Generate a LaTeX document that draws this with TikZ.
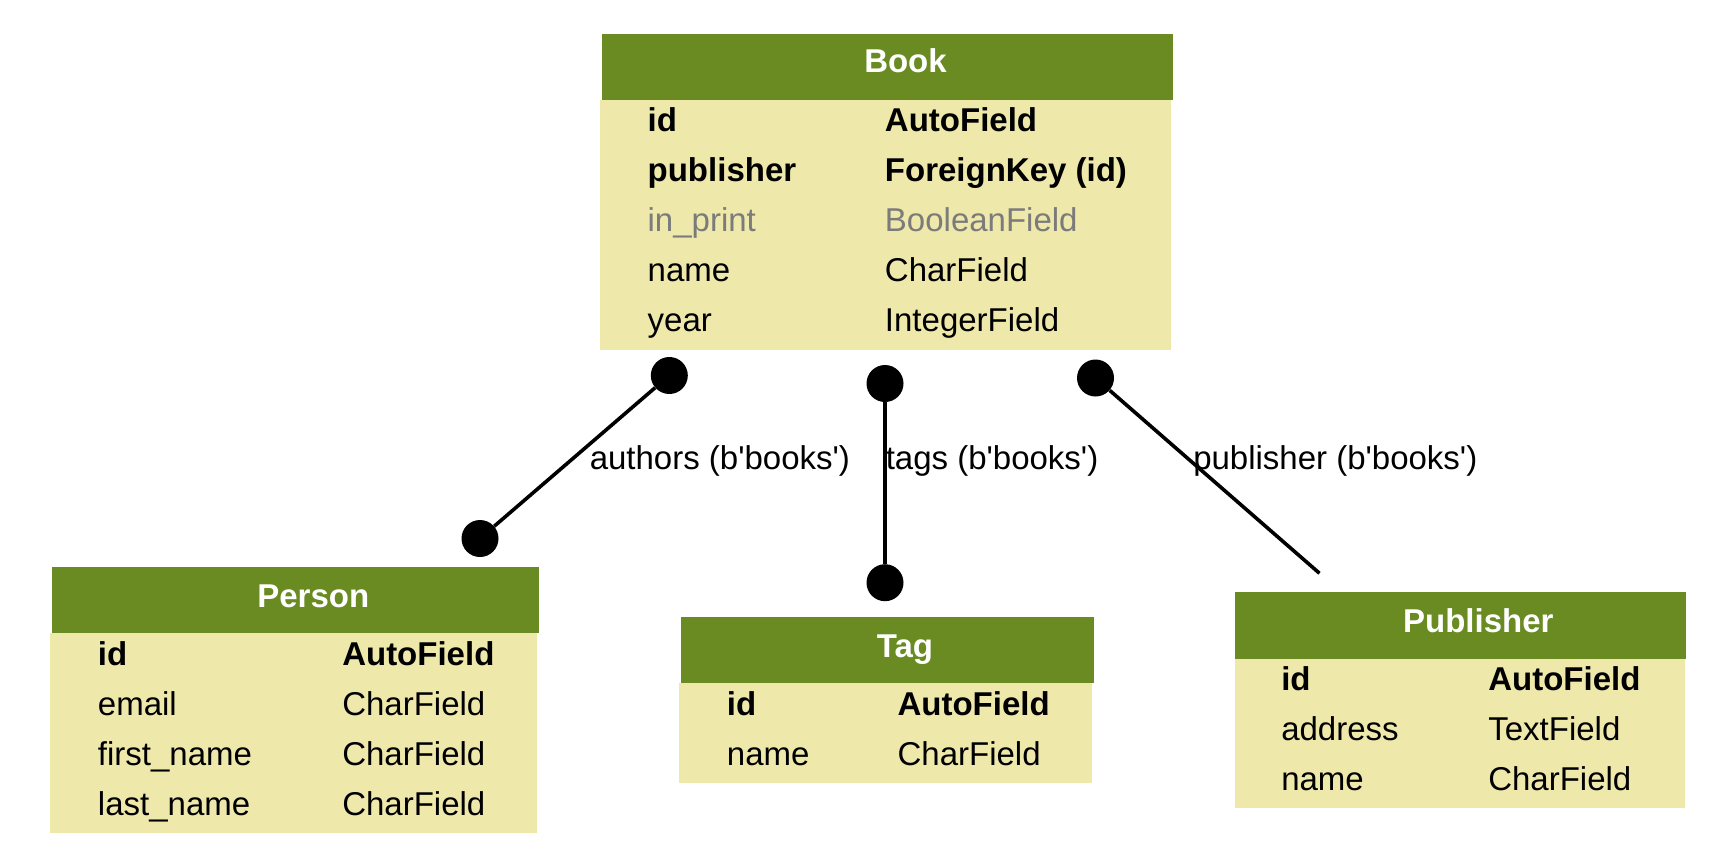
\documentclass[tikz,border=0pt]{standalone}
\usepackage{xcolor}
\usepackage{fontspec}
\setmainfont{Liberation Sans}
\usepackage{tikz}

\definecolor{headgreen}{HTML}{698B22}
\definecolor{bodyyellow}{HTML}{EEE8AA}
\definecolor{nullgray}{HTML}{7B7B7B}

\tikzset{
  fieldtxt/.style={anchor=base west, inner sep=0pt, font=\fontsize{24.75}{30}\selectfont},
  keytxt/.style={fieldtxt, font=\fontsize{24.75}{30}\selectfont\bfseries},
  nulltxt/.style={fieldtxt, text=nullgray},
  titletxt/.style={anchor=base, inner sep=0pt, text=white, font=\fontsize{24.75}{30}\selectfont\bfseries},
  reldot/.style={circle, fill=black, inner sep=0pt, minimum size=27.75pt},
  relline/.style={line width=2.7pt},
}

\begin{document}
\begin{tikzpicture}[x=0.75pt,y=0.75pt,yscale=-1,xscale=1]
\useasboundingbox (0,0) rectangle (1735,867);

%Shape: Rectangle [Book body]
\fill [bodyyellow] (599.5,100) rectangle (1170.7,350);
%Shape: Rectangle [Book header]
\fill [headgreen] (601.5,34.5) rectangle (1172.7,100);
% Text Node
\node [titletxt] (bookT) at (905.5,73) {Book};
% Text Node
\node [keytxt] (bookF1) at (647.4,131.7) {id};
\node [keytxt] (bookY1) at (884.7,131.7) {AutoField};
\node [keytxt] (bookF2) at (647.4,181.7) {publisher};
\node [keytxt] (bookY2) at (884.7,181.7) {ForeignKey (id)};
\node [nulltxt] (bookF3) at (647.4,231.7) {in\_print};
\node [nulltxt] (bookY3) at (884.7,231.7) {BooleanField};
\node [fieldtxt] (bookF4) at (647.4,281.7) {name};
\node [fieldtxt] (bookY4) at (884.7,281.7) {CharField};
\node [fieldtxt] (bookF5) at (647.4,331.7) {year};
\node [fieldtxt] (bookY5) at (884.7,331.7) {IntegerField};

%Shape: Rectangle [Person body]
\fill [bodyyellow] (50,633) rectangle (537.3,833);
%Shape: Rectangle [Person header]
\fill [headgreen] (52,567) rectangle (539.3,633);
% Text Node
\node [titletxt] (personT) at (313.3,607.3) {Person};
% Text Node
\node [keytxt] (personF1) at (97.7,665) {id};
\node [keytxt] (personY1) at (342,665) {AutoField};
\node [fieldtxt] (personF2) at (97.7,715) {email};
\node [fieldtxt] (personY2) at (342,715) {CharField};
\node [fieldtxt] (personF3) at (97.7,765) {first\_name};
\node [fieldtxt] (personY3) at (342,765) {CharField};
\node [fieldtxt] (personF4) at (97.7,815) {last\_name};
\node [fieldtxt] (personY4) at (342,815) {CharField};

%Shape: Rectangle [Tag body]
\fill [bodyyellow] (679,683) rectangle (1091.7,783);
%Shape: Rectangle [Tag header]
\fill [headgreen] (681,617.3) rectangle (1094,683);
% Text Node
\node [titletxt] (tagT) at (905,657.3) {Tag};
% Text Node
\node [keytxt] (tagF1) at (726.7,715) {id};
\node [keytxt] (tagY1) at (897.3,715) {AutoField};
\node [fieldtxt] (tagF2) at (726.7,765) {name};
\node [fieldtxt] (tagY2) at (897.3,765) {CharField};

%Shape: Rectangle [Publisher body]
\fill [bodyyellow] (1235,659) rectangle (1685,808);
%Shape: Rectangle [Publisher header]
\fill [headgreen] (1235,592) rectangle (1685.7,659);
% Text Node
\node [titletxt] (pubT) at (1478.3,632.7) {Publisher};
% Text Node
\node [keytxt] (pubF1) at (1281,690) {id};
\node [keytxt] (pubY1) at (1488,690) {AutoField};
\node [fieldtxt] (pubF2) at (1281,740) {address};
\node [fieldtxt] (pubY2) at (1488,740) {TextField};
\node [fieldtxt] (pubF3) at (1281,790) {name};
\node [fieldtxt] (pubY3) at (1488,790) {CharField};

%Relations: end dots
\node [reldot] (authA) at (669.3,375.5) {};
\node [reldot] (authB) at (480,538.5) {};
\node [reldot] (tagsA) at (885,383.5) {};
\node [reldot] (tagsB) at (885,582.7) {};
\node [reldot] (pubA) at (1095.5,378) {};
\coordinate (pubB) at (1319.5,573.3);

%Straight Lines
\draw [relline] (authA) -- (authB);
\draw [relline] (tagsA) -- (tagsB);
\draw [relline] (pubA) -- (pubB);

% Text Node
\node [fieldtxt] (authL) at (589.5,469) {authors (b\textquotesingle books\textquotesingle)};
\node [fieldtxt] (tagsL) at (885.5,469) {tags (b\textquotesingle books\textquotesingle)};
\node [fieldtxt] (pubL) at (1193,469) {publisher (b\textquotesingle books\textquotesingle)};

\end{tikzpicture}
\end{document}
